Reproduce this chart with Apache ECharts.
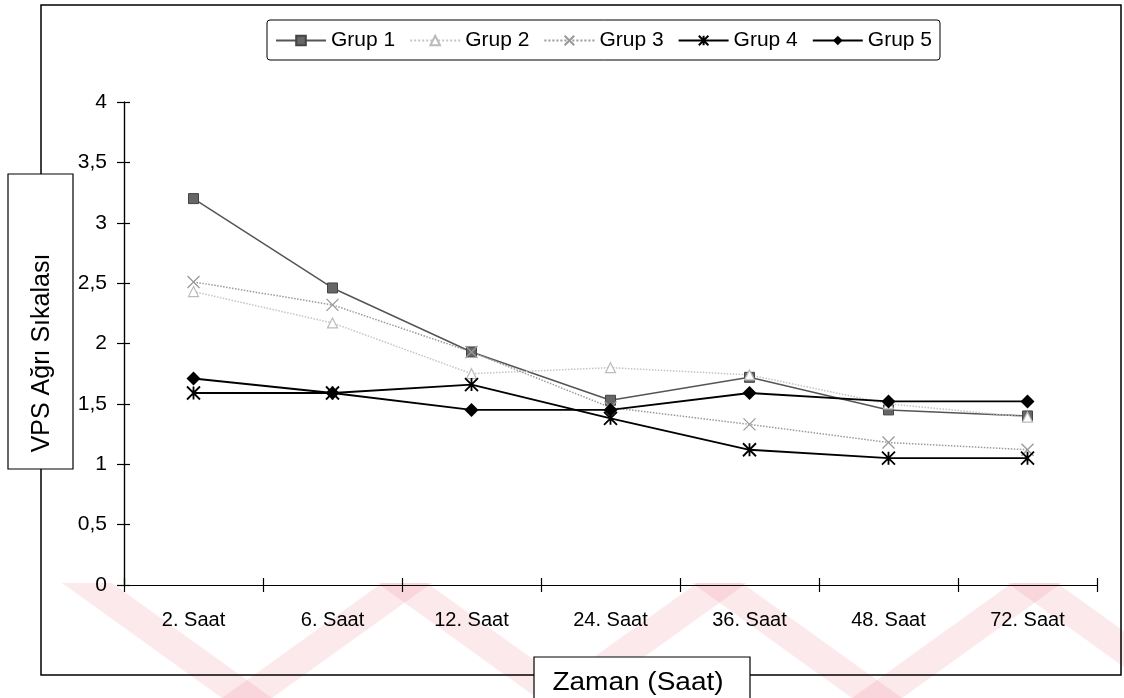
<!DOCTYPE html>
<html>
<head>
<meta charset="utf-8">
<title>VPS Ağrı Sıkalası</title>
<script src="https://cdn.jsdelivr.net/npm/echarts@6/dist/echarts.min.js"></script>
<style>
  html, body { margin: 0; padding: 0; background: #fff; }
  #chart { width: 1124px; height: 698px; }
</style>
</head>
<body>
<div id="chart"></div>
<script>
// veriler
var categories = ['2. Saat', '6. Saat', '12. Saat', '24. Saat', '36. Saat', '48. Saat', '72. Saat'];
var grup1 = [3.2, 2.46, 1.93, 1.53, 1.72, 1.45, 1.4];
var grup2 = [2.43, 2.17, 1.75, 1.8, 1.74, 1.5, 1.39];
var grup3 = [2.51, 2.32, 1.93, 1.47, 1.33, 1.18, 1.12];
var grup4 = [1.59, 1.59, 1.66, 1.38, 1.12, 1.05, 1.05];
var grup5 = [1.71, 1.59, 1.45, 1.45, 1.59, 1.52, 1.52];
var yTicks = [0, 0.5, 1, 1.5, 2, 2.5, 3, 3.5, 4];

var font = 'Liberation Sans, Arial, sans-serif';
var myChart = echarts.init(document.getElementById('chart'));

// filigran (arka plandaki pembe V şeritleri)
var watermark = [];
[247, 562, 877, 1192].forEach(function (ax) {
    watermark.push({
        type: 'polygon', z: -10, silent: true,
        shape: { points: [[ax - 185, 583], [ax - 135, 583], [ax + 25, 698], [ax - 25, 698]] },
        style: { fill: 'rgba(235,110,130,0.15)' }
    });
    watermark.push({
        type: 'polygon', z: -10, silent: true,
        shape: { points: [[ax + 135, 583], [ax + 185, 583], [ax + 25, 698], [ax - 25, 698]] },
        style: { fill: 'rgba(235,110,130,0.15)' }
    });
});

var tickStyle = { color: '#000', width: 1.2, opacity: 1 };
var axisLineStyle = { show: true, onZero: false, lineStyle: { color: '#000', width: 1.2, opacity: 1 } };

option = {
    backgroundColor: '#fff',
    animation: false,
    textStyle: { fontFamily: font },
    grid: { left: 124, right: 27, top: 102, bottom: 113 },
    legend: {
        left: 267, top: 20,
        padding: [10, 8, 9, 8],
        borderColor: '#000', borderWidth: 1, borderRadius: 3,
        itemWidth: 50, itemHeight: 12, itemGap: 14,
        textStyle: { fontSize: 21, color: '#000', fontFamily: font },
        data: ['Grup 1', 'Grup 2', 'Grup 3', 'Grup 4', 'Grup 5']
    },
    xAxis: [{
        type: 'category',
        data: categories,
        boundaryGap: true,
        axisLine: { lineStyle: { color: '#000', width: 1.2 } },
        axisTick: { show: true, length: 7, lineStyle: tickStyle },
        axisLabel: { color: '#000', fontSize: 20, margin: 25, fontFamily: font },
        splitLine: { show: false }
    }, {
        // eksen çizgisinin üstüne taşan tik parçaları
        type: 'category',
        data: categories,
        position: 'bottom',
        offset: 0,
        boundaryGap: true,
        axisLine: axisLineStyle,
        axisTick: { show: true, length: -7, lineStyle: tickStyle },
        axisLabel: { show: false },
        splitLine: { show: false }
    }],
    yAxis: [{
        type: 'value',
        min: 0, max: 4, interval: 0.5,
        axisLine: { show: true, lineStyle: { color: '#000', width: 1.2 } },
        axisTick: { show: true, length: 7, lineStyle: tickStyle },
        axisLabel: {
            color: '#000', fontSize: 21, margin: 17, fontFamily: font,
            formatter: function (v) { return yTicks.indexOf(v) >= 0 ? String(v).replace('.', ',') : ''; }
        },
        splitLine: { show: false }
    }, {
        type: 'value',
        position: 'left',
        offset: 0,
        min: 0, max: 4, interval: 0.5,
        axisLine: axisLineStyle,
        axisTick: { show: true, length: -6, lineStyle: tickStyle },
        axisLabel: { show: false },
        splitLine: { show: false }
    }],
    series: [{
        name: 'Grup 1', type: 'line', data: grup1,
        symbol: 'rect', symbolSize: 10,
        lineStyle: { color: '#555', width: 1.5 },
        itemStyle: { color: '#666', borderColor: '#444', borderWidth: 1 }
    }, {
        name: 'Grup 2', type: 'line', data: grup2,
        symbol: 'triangle', symbolSize: 10,
        lineStyle: { color: '#c4c4c4', width: 1.5, type: 'dotted' },
        itemStyle: { color: '#fff', borderColor: '#bbb', borderWidth: 1.2 }
    }, {
        name: 'Grup 3', type: 'line', data: grup3,
        symbol: 'path://M0,0L10,10M10,0L0,10', symbolSize: 12,
        lineStyle: { color: '#9a9a9a', width: 1.5, type: 'dotted' },
        itemStyle: { color: 'none', borderColor: '#999', borderWidth: 1.3 }
    }, {
        name: 'Grup 4', type: 'line', data: grup4,
        symbol: 'path://M0,0L10,10M10,0L0,10M5,0L5,10', symbolSize: 13,
        lineStyle: { color: '#000', width: 1.8 },
        itemStyle: { color: 'none', borderColor: '#000', borderWidth: 1.8 }
    }, {
        name: 'Grup 5', type: 'line', data: grup5,
        symbol: 'diamond', symbolSize: 14,
        lineStyle: { color: '#000', width: 1.8 },
        itemStyle: { color: '#000' }
    }, {
        // ikinci eksen çiftini etkinleştirmek için görünmez seri
        name: 'tik', type: 'line', data: grup5,
        xAxisIndex: 1, yAxisIndex: 1,
        symbol: 'none', silent: true,
        lineStyle: { opacity: 0 }
    }],
    graphic: watermark.concat([{
        // dış çerçeve
        type: 'rect', z: -5, silent: true,
        shape: { x: 41, y: 5, width: 1080, height: 670 },
        style: { fill: 'none', stroke: '#000', lineWidth: 1.5 }
    }, {
        // y ekseni başlığı
        type: 'rect', z: 5,
        shape: { x: 8, y: 174, width: 65, height: 295 },
        style: { fill: '#fff', stroke: '#000', lineWidth: 1.2 }
    }, {
        type: 'text', z: 6,
        x: 42, y: 353, rotation: Math.PI / 2,
        style: {
            text: 'VPS Ağrı Sıkalası', fontSize: 25, fontFamily: font,
            fill: '#000', align: 'center', verticalAlign: 'middle'
        }
    }, {
        // x ekseni başlığı
        type: 'rect', z: 5,
        shape: { x: 534, y: 657, width: 216, height: 50 },
        style: { fill: '#fff', stroke: '#000', lineWidth: 1.2 }
    }, {
        type: 'text', z: 6,
        x: 638, y: 683, scaleX: 1.12,
        style: {
            text: 'Zaman (Saat)', fontSize: 25, fontFamily: font,
            fill: '#000', align: 'center', verticalAlign: 'middle'
        }
    }])
};
myChart.setOption(option);
</script>
</body>
</html>
